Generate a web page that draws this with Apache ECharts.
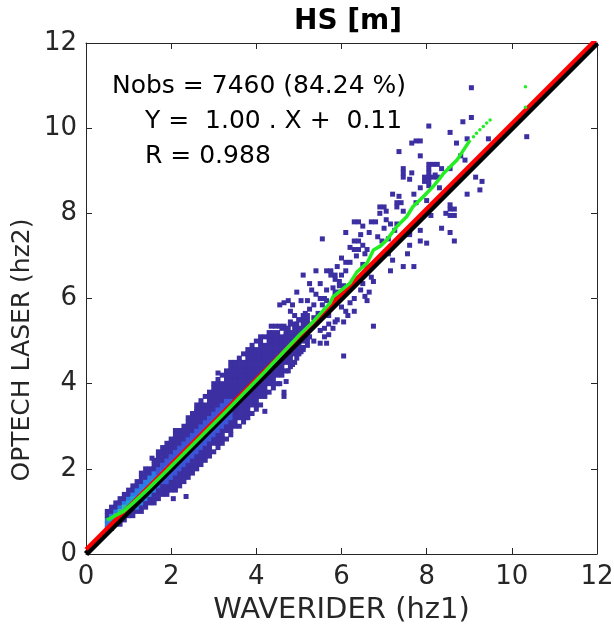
<!DOCTYPE html>
<html><head><meta charset="utf-8">
<script src="https://cdn.jsdelivr.net/npm/echarts@6/dist/echarts.min.js"></script>
<style>html,body{margin:0;padding:0;background:#fff}#c{width:614px;height:627px}</style>
</head><body><div id="c"></div>
<script>
// ---- data ----
const tickValues = [0, 2, 4, 6, 8, 10, 12];
// dense band: per x-bin (0.1 m) the lowest and highest occupied y-bin
const bandX  = [0.5,0.6,0.7,0.8,0.9,1.0,1.1,1.2,1.3,1.4,1.5,1.6,1.7,1.8,1.9,2.0,2.1,2.2,2.3,2.4,2.5,2.6,2.7,2.8,2.9,3.0,3.1,3.2,3.3,3.4,3.5,3.6,3.7,3.8,3.9,4.0,4.1,4.2,4.3,4.4,4.5,4.6,4.7,4.8,4.9,5.0,5.1,5.2];
const bandLo = [0.6,0.6,0.7,0.7,0.8,0.9,0.9,1.0,1.0,1.1,1.2,1.2,1.3,1.4,1.4,1.5,1.5,1.6,1.7,1.8,1.9,2.0,2.1,2.2,2.3,2.4,2.5,2.6,2.7,2.8,2.9,3.0,3.1,3.2,3.3,3.4,3.5,3.7,3.8,3.9,4.0,4.2,4.3,4.4,4.5,4.7,4.8,4.9];
const bandHi = [1.0,1.1,1.2,1.3,1.4,1.5,1.6,1.7,1.9,2.0,2.0,2.2,2.4,2.5,2.6,2.7,2.9,2.9,3.0,3.2,3.3,3.5,3.6,3.7,3.8,4.0,4.1,4.2,4.3,4.5,4.5,4.6,4.7,4.8,4.9,5.0,5.1,5.1,5.2,5.2,5.2,5.3,5.3,5.4,5.4,5.5,5.6,5.6];
// empty bins inside the band [x, y]
const bandHoles = [[3.0,2.5],[3.3,2.8],[3.6,3.1],[3.7,4.6],[3.9,3.4],[4.0,4.9],[4.1,3.6],[4.2,5.0],[4.3,3.9],[4.4,5.1],[4.5,4.1],[4.6,5.2],[4.7,4.4],[4.8,5.3],[4.9,4.6],[5.0,5.4],[5.1,4.9],[3.2,4.1],[3.5,2.9],[2.8,3.6]];
// brighter core of the band (first 30 x-bins)
const coreLo    = [0.6,0.7,0.7,0.8,0.9,1.0,1.1,1.1,1.2,1.3,1.4,1.5,1.6,1.7,1.7,1.8,1.9,2.0,2.1,2.2,2.3,2.4,2.5,2.6,2.7,2.8,2.9,3.0,3.1,3.2];
const coreHi    = [0.8,0.9,1.0,1.1,1.2,1.3,1.4,1.5,1.6,1.7,1.8,1.9,2.0,2.1,2.2,2.3,2.4,2.5,2.6,2.7,2.8,2.9,3.0,3.1,3.2,3.3,3.4,3.5,3.6,3.6];
const coreLevel = [3,3,3,3,3,3,3,3,3,3,3,3,2,2,2,2,2,2,2,2,2,2,2,2,2,2,2,2,2,2];
// densest cells [x, y, level]
const peakCells = [[0.6,0.8,4],[0.7,0.9,5],[0.8,1.0,5],[0.9,1.0,6],[0.9,1.1,5],[1.0,1.1,5],[1.0,1.2,4],[1.1,1.2,5],[1.1,1.3,4],[1.2,1.3,4],[1.3,1.4,4],[1.4,1.5,4],[1.5,1.6,4],[1.6,1.7,4],[1.2,1.2,4],[0.8,0.9,4],[1.7,1.8,3],[1.8,1.9,3],[1.9,2.0,3]];
// isolated cells [x, y]
const sparseCells = [
[9.05,10.95],[8.05,10.05],[9.05,10.25],[8.85,10.15],[8.55,9.9],[8.95,9.75],[7.65,9.65],[7.85,9.7],[7.75,9.7],[9.45,9.75],[10.35,9.8],[7.35,9.45],[7.85,9.35],[7.45,9.05],[7.65,8.95],[7.45,8.85],
[8.05,9.15],[8.15,9.15],[8.25,9.15],[8.05,9.05],[8.05,8.95],[8.05,8.85],[8.15,8.85],[8.25,8.85],[8.35,9.05],
[7.95,8.75],[8.05,8.75],[8.7,9.65],[8.55,9.05],[8.8,9.35],[8.9,9.25],[9.15,8.85],[9.3,8.75],[8.95,8.45],[9.25,8.55],[8.3,8.6],
[8.55,8.2],[8.55,8.1],[8.65,8.1],[8.45,8.0],[8.55,7.95],[8.65,7.95],
[8.35,7.65],[8.55,7.55],[8.65,7.35],[8.0,7.3],[7.6,7.25],[7.85,7.35],[7.85,7.6],[7.6,7.55],[7.55,7.05],[7.7,6.75],[7.45,6.75],[7.15,6.65],
[7.45,8.95],[7.6,8.8],[7.95,8.85],[8.05,8.65],[8.2,8.9],[7.2,8.45],[7.35,8.4],[7.7,8.45],[7.85,8.6],[7.3,8.25],[7.4,8.25],[7.3,8.15],[7.45,8.05],[7.75,8.25],[8.0,8.3],[8.1,7.95],[6.9,8.15],[7.0,8.15],[7.05,8.05],[6.9,8.0],[7.05,7.85],[7.15,7.75],[6.7,7.8],[6.8,7.8],[6.3,7.8],[6.4,7.8],[6.5,7.7],[6.45,7.5],[6.65,7.55],[6.1,7.55],
[6.3,7.35],[6.4,7.35],[6.5,7.25],[6.3,7.15],[6.4,7.15],[6.55,7.05],[6.6,7.15],
[6.0,6.95],[6.1,6.85],[5.55,7.4],[7.0,7.05],[7.1,7.05],[7.2,6.9],[7.6,7.5],[6.7,6.5],[6.75,6.4],[6.3,6.35],
[5.65,6.65],[5.75,6.55],[5.85,6.45],[5.95,6.3],[5.8,6.25],[5.65,6.2],
[6.35,7.0],[6.5,6.8],[6.6,6.75],[6.2,6.85],[6.1,6.65],
[5.1,6.55],[5.4,6.65],[5.5,6.35],
[5.75,6.65],[5.85,6.55],[5.95,6.4],[6.05,6.3],[6.1,6.15],[5.85,6.15],
[5.3,6.2],[5.4,6.1],[5.5,6.0],[5.6,6.0],[5.05,5.95],[4.85,5.85],[4.55,5.85],[4.65,5.9],
[4.8,5.7],[4.9,5.6],[5.0,5.5],[4.8,5.45],[4.95,5.4],
[4.35,5.35],[4.45,5.35],[4.55,5.35],[4.65,5.35],[4.75,5.3],[4.4,5.1],[4.55,5.05],[4.7,5.15],
[5.6,5.7],[5.7,5.6],[5.85,5.45],[5.7,5.4],[5.6,5.3],[5.5,5.25],[5.7,5.15],
[6.0,5.8],[6.1,5.7],[6.15,5.6],[6.05,5.45],
[6.05,4.65],[5.65,4.95],[5.1,4.85],[5.35,5.0],[5.25,5.1],
[6.75,5.35],[6.3,5.7],[6.55,6.05],[6.6,5.95],[6.65,6.15],
[4.65,3.8],[4.65,3.7],[4.2,3.35],[4.55,4.0],[4.75,4.3],[4.85,4.45],[4.95,4.6],[5.05,4.75],[4.7,4.05],
[2.6,3.35],[2.05,1.3],[2.35,1.35],[3.1,4.25],[1.55,2.25],
[5.35,5.55],[5.45,5.65],[5.25,5.75],[5.15,5.65],[5.55,5.85],[5.65,5.95],[5.35,5.85],[5.85,6.05],[5.95,6.15],[5.75,5.85],[5.5,4.95],[5.6,5.1],[5.8,5.3],[5.9,5.5],[6.2,5.9],[6.3,6.0],[6.45,6.2],[6.5,6.35],[6.0,6.55],[5.2,5.95],[5.25,6.35],[4.95,6.15],[4.75,5.95],[5.9,6.75],[6.2,7.2],[6.85,7.45],[6.95,7.35],[7.1,7.4],[7.25,7.6],[7.3,7.75],[7.0,7.65]
];
// 1:1 line and regression line (Y = 1.00 X + 0.11)
const lineX = [0, 12];
const oneToOneY = [0, 12];
const regY = [0.11, 12.11];
// quantile-quantile curve (green)
const qqX = [0.49,0.88,1.11,1.43,1.89,2.29,2.83,3.3,3.85,4.2,4.56,5.03,5.3,5.5,5.73,5.8,6.2,6.36,6.6,6.75,6.91,7.06,7.3,7.53,7.68,7.92,8.15,8.31,8.4,8.71,9.02];
const qqY = [0.8,1.0,1.2,1.5,1.95,2.35,2.89,3.36,3.92,4.28,4.66,5.16,5.42,5.64,5.89,6.04,6.36,6.62,6.83,7.14,7.23,7.37,7.69,7.92,8.16,8.39,8.63,8.82,8.94,9.25,9.72];
const qqTailX = [9.1,9.17,9.25,9.33,9.41,9.49,10.32,10.32];
const qqTailY = [9.8,9.88,9.96,10.04,10.12,10.19,10.49,10.97];
const annotations = ['Nobs = 7460 (84.24 %)', 'Y =  1.00 . X +  0.11', 'R = 0.988'];

// ---- build chart data ----
const holeKey = new Set(bandHoles.map(h => h[0].toFixed(1) + '_' + h[1].toFixed(1)));
const cells = [];
bandX.forEach((x, i) => {
  const n = Math.round((bandHi[i] - bandLo[i]) / 0.1);
  for (let k = 0; k <= n; k++) {
    const y = Math.round((bandLo[i] + k * 0.1) * 100) / 100;
    if (holeKey.has(x.toFixed(1) + '_' + y.toFixed(1))) continue;
    let lev = 1;
    if (i < coreLo.length && y >= coreLo[i] - 1e-6 && y <= coreHi[i] + 1e-6) lev = coreLevel[i];
    cells.push([x, y, lev]);
  }
});
peakCells.forEach(p => cells.push(p));
sparseCells.forEach(p => cells.push([p[0], p[1], 1]));

const chart = echarts.init(document.getElementById('c'), null, {renderer: 'canvas'});
const axisCol = '#262626';
const font = 'DejaVu Sans';
const baseAxis = {
  type: 'value', min: 0, max: 12, interval: 2,
  axisLine: {show: true, onZero: false, lineStyle: {color: axisCol, width: 1}},
  axisTick: {show: true, inside: true, length: 6, lineStyle: {color: axisCol}},
  splitLine: {show: false},
};
chart.setOption({
  animation: false,
  backgroundColor: '#fff',
  textStyle: {fontFamily: font},
  title: {text: 'HS [m]', left: 343, top: 3, textAlign: 'center',
    textStyle: {fontFamily: font, fontWeight: 'bold', fontSize: 28, color: '#000'}},
  grid: {left: 86, top: 43, width: 511, height: 511, outerBoundsMode: 'none', containLabel: false},
  xAxis: [
    Object.assign({}, baseAxis, {position: 'bottom',
      axisLabel: {fontSize: 26, color: axisCol, margin: 10, fontFamily: font},
      name: 'WAVERIDER (hz1)', nameLocation: 'middle', nameGap: 42,
      nameTextStyle: {fontSize: 29, color: axisCol, fontFamily: font}}),
    Object.assign({}, baseAxis, {position: 'top', axisLabel: {show: false}})
  ],
  yAxis: [
    Object.assign({}, baseAxis, {position: 'left',
      axisLabel: {fontSize: 26, color: axisCol, margin: 9, fontFamily: font}}),
    Object.assign({}, baseAxis, {position: 'right', axisLabel: {show: false}})
  ],
  visualMap: {show: false, type: 'piecewise', seriesIndex: 0, dimension: 2,
    pieces: [
      {value: 1, color: '#3c2fa2'}, {value: 2, color: '#3b55d8'}, {value: 3, color: '#2a7ce6'},
      {value: 4, color: '#16a2d6'}, {value: 5, color: '#2cb8aa'}, {value: 6, color: '#a6c266'}
    ]},
  series: [
    {type: 'scatter', data: cells, symbol: 'rect', symbolSize: 5, z: 1, silent: true,
      itemStyle: {opacity: 1}},
    {type: 'line', data: lineX.map((x, i) => [x, oneToOneY[i]]), showSymbol: false, z: 2,
      lineStyle: {color: '#000', width: 6}},
    {type: 'line', data: lineX.map((x, i) => [x, regY[i]]), showSymbol: false, z: 3,
      lineStyle: {color: '#ff0000', width: 4}},
    {type: 'line', data: qqX.map((x, i) => [x, qqY[i]]), showSymbol: false, z: 4,
      lineStyle: {color: '#22ee22', width: 3.5}},
    {type: 'scatter', data: qqTailX.map((x, i) => [x, qqTailY[i]]), symbol: 'circle', symbolSize: 3.5, z: 4,
      itemStyle: {color: '#22ee22', opacity: 1}}
  ],
  graphic: annotations.map((t, i) => ({
    type: 'text', left: i === 0 ? 112 : 145, top: 74 + i * 35,
    style: {text: t, fontSize: 25, fontFamily: font, fill: '#000'}
  })).concat([{
    type: 'text', x: 22, y: 350, rotation: Math.PI / 2,
    style: {text: 'OPTECH LASER (hz2)', fontSize: 25, fontFamily: font, fill: axisCol,
      align: 'center', verticalAlign: 'middle'}
  }])
});
</script></body></html>
